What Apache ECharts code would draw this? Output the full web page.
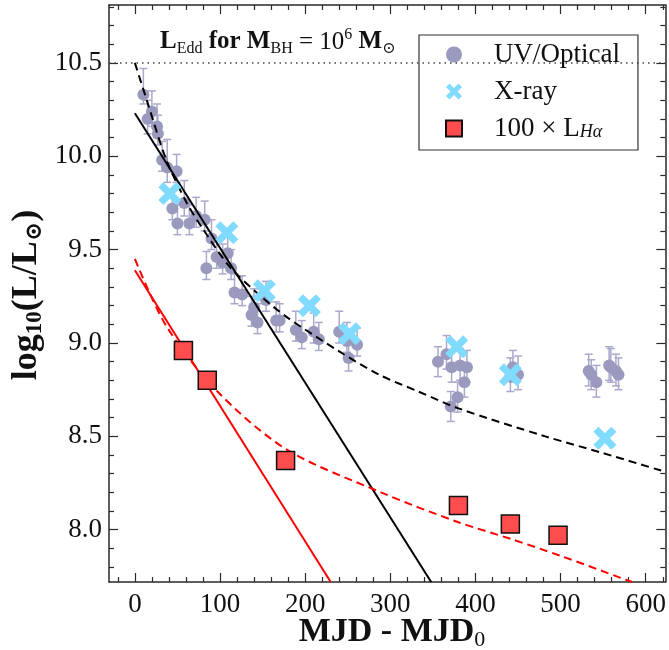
<!DOCTYPE html>
<html>
<head>
<meta charset="utf-8">
<script src="https://cdn.jsdelivr.net/npm/echarts@6/dist/echarts.min.js"></script>
<style>
html, body { margin: 0; padding: 0; background: #fff; }
#main { width: 669px; height: 650px; }
</style>
</head>
<body>
<div id="main"></div>
<script>
// UV/Optical points (days, log L) with lower / upper errors
var uvX = [10, 15, 20, 26, 27, 32, 38, 44, 49, 50, 58, 64, 72, 82, 84, 90, 96, 103, 109, 113, 117, 126, 137, 140, 144, 154, 166, 170, 189, 196, 210, 216, 240, 249, 251, 261, 356, 366, 371, 372, 379, 382, 387, 390, 441, 444, 450, 533, 536, 542, 557, 559, 565, 568];
var uvY = [10.33, 10.20, 10.24, 10.16, 10.12, 9.98, 9.94, 9.72, 9.92, 9.64, 9.75, 9.64, 9.68, 9.66, 9.40, 9.56, 9.46, 9.43, 9.48, 9.40, 9.27, 9.26, 9.15, 9.19, 9.11, 9.23, 9.12, 9.12, 9.07, 9.03, 9.06, 9.02, 9.06, 9.01, 8.92, 8.99, 8.90, 8.94, 8.66, 8.87, 8.71, 8.88, 8.79, 8.87, 8.82, 8.87, 8.83, 8.85, 8.83, 8.79, 8.88, 8.87, 8.85, 8.83];
var uvErrHi = [0.14, 0.10, 0.11, 0.12, 0.10, 0.10, 0.15, 0.10, 0.09, 0.10, 0.12, 0.10, 0.10, 0.10, 0.09, 0.10, 0.10, 0.10, 0.12, 0.10, 0.10, 0.10, 0.10, 0.10, 0.10, 0.10, 0.10, 0.09, 0.10, 0.09, 0.10, 0.09, 0.11, 0.10, 0.08, 0.09, 0.08, 0.10, 0.08, 0.09, 0.08, 0.09, 0.10, 0.09, 0.10, 0.09, 0.10, 0.09, 0.08, 0.09, 0.10, 0.10, 0.09, 0.09];
var uvErrLo = [0.05, 0.08, 0.08, 0.06, 0.06, 0.06, 0.08, 0.06, 0.06, 0.06, 0.07, 0.06, 0.06, 0.06, 0.06, 0.06, 0.06, 0.06, 0.06, 0.06, 0.06, 0.06, 0.06, 0.06, 0.06, 0.06, 0.06, 0.06, 0.06, 0.06, 0.06, 0.06, 0.06, 0.06, 0.07, 0.06, 0.08, 0.08, 0.08, 0.08, 0.08, 0.08, 0.08, 0.08, 0.08, 0.08, 0.08, 0.08, 0.08, 0.08, 0.08, 0.08, 0.08, 0.08];

// X-ray points
var xrX = [41, 108, 152, 205, 252, 378, 441, 552];
var xrY = [9.80, 9.59, 9.28, 9.20, 9.05, 8.98, 8.83, 8.49];

// 100 x L_Halpha points
var haX = [57, 85, 177, 380, 441, 497];
var haY = [8.96, 8.80, 8.37, 8.13, 8.03, 7.97];

// model curves
var blackDashX = [0, 14, 37, 61, 80, 111, 143, 178, 240, 287, 333, 380, 482, 550, 623];
var blackDashY = [10.50, 10.30, 9.98, 9.75, 9.61, 9.41, 9.27, 9.14, 8.955, 8.83, 8.74, 8.65, 8.50, 8.41, 8.31];
var blackSolidX = [0, 348];
var blackSolidY = [10.23, 7.72];
var redDashX = [0, 37, 97, 178, 289, 380, 442, 500, 572, 584];
var redDashY = [9.45, 9.09, 8.74, 8.43, 8.20, 8.04, 7.95, 7.86, 7.74, 7.72];
var redSolidX = [0, 230];
var redSolidY = [9.39, 7.72];

var lEdd = 10.5;

// axes
var xMin = -30.4, xMax = 623;
var yMin = 7.72, yMax = 10.81;
var xMajor = [0, 100, 200, 300, 400, 500, 600];
var xMinor = [-20, 20, 40, 60, 80, 120, 140, 160, 180, 220, 240, 260, 280, 320, 340, 360, 380, 420, 440, 460, 480, 520, 540, 560, 580, 620];
var yMajor = [8.0, 8.5, 9.0, 9.5, 10.0, 10.5];
var yMinor = [7.8, 7.9, 8.1, 8.2, 8.3, 8.4, 8.6, 8.7, 8.8, 8.9, 9.1, 9.2, 9.3, 9.4, 9.6, 9.7, 9.8, 9.9, 10.1, 10.2, 10.3, 10.4, 10.6, 10.7, 10.8];

var SERIF = "'Liberation Serif', 'DejaVu Serif', serif";
var FRAME = '#2a2a2a';
var UV_COLOR = '#9a9abf';
var ERR_COLOR = '#a9a9cc';
var XR_COLOR = '#80dbff';
var HA_COLOR = '#ff4d4d';
var CROSS = 'path://M0,2.2L2.2,0L5,2.8L7.8,0L10,2.2L7.2,5L10,7.8L7.8,10L5,7.2L2.2,10L0,7.8L2.8,5Z';
var HA_NAME = '100 × LHα';

function zip(xs, ys) { return xs.map(function (x, i) { return [x, ys[i]]; }); }

function xAxisDef(pos, ticks, len, line, labels) {
    return {
        type: 'value', position: pos, min: xMin, max: xMax,
        axisLine: { show: line, onZero: false, lineStyle: { color: FRAME, width: 1.5 } },
        axisTick: { show: true, inside: true, length: len, customValues: ticks, lineStyle: { color: FRAME, width: 1.2 } },
        axisLabel: labels ? { customValues: ticks, margin: 9, fontFamily: SERIF, fontSize: 27, color: '#111' } : { show: false },
        splitLine: { show: false }
    };
}
function yAxisDef(pos, ticks, len, line, labels) {
    return {
        type: 'value', position: pos, min: yMin, max: yMax,
        axisLine: { show: line, onZero: false, lineStyle: { color: FRAME, width: 1.5 } },
        axisTick: { show: true, inside: true, length: len, customValues: ticks, lineStyle: { color: FRAME, width: 1.2 } },
        axisLabel: labels ? {
            customValues: ticks, margin: 7, fontFamily: SERIF, fontSize: 27, color: '#111',
            formatter: function (v) { return v.toFixed(1); }
        } : { show: false },
        splitLine: { show: false }
    };
}

var myChart = echarts.init(document.getElementById('main'));

var option = {
    animation: false,
    backgroundColor: '#fff',
    grid: { left: 109, right: 2, top: 5, bottom: 68 },
    xAxis: [
        xAxisDef('bottom', xMajor, 9, true, true),
        xAxisDef('bottom', xMinor, 5, false, false),
        xAxisDef('top', xMajor, 9, true, false),
        xAxisDef('top', xMinor, 5, false, false)
    ],
    yAxis: [
        yAxisDef('left', yMajor, 9, true, true),
        yAxisDef('left', yMinor, 5, false, false),
        yAxisDef('right', yMajor, 9, true, false),
        yAxisDef('right', yMinor, 5, false, false)
    ],
    legend: {
        orient: 'vertical', left: 419, top: 35,
        padding: [6, 18, 8, 26],
        itemWidth: 16, itemHeight: 16, itemGap: 10,
        backgroundColor: '#fff', borderColor: '#333', borderWidth: 1.2,
        selectedMode: false,
        textStyle: {
            fontFamily: SERIF, fontSize: 27, color: '#111', padding: [0, 0, 0, 27],
            rich: {
                t: { fontFamily: SERIF, fontSize: 27, color: '#111', lineHeight: 26 },
                s: { fontFamily: SERIF, fontSize: 18, fontStyle: 'italic', color: '#111', lineHeight: 12, verticalAlign: 'bottom' }
            }
        },
        formatter: function (name) {
            return name === HA_NAME ? '{t|100 × L}{s|Hα}' : '{t|' + name + '}';
        },
        data: [
            { name: 'UV/Optical', icon: 'circle' },
            { name: 'X-ray', icon: CROSS },
            { name: HA_NAME, icon: 'rect' }
        ]
    },
    graphic: [
        {
            type: 'text', left: 160, top: 27, z: 100,
            style: {
                text: '{b|L}{sub|Edd}{b| for M}{sub|BH}{r| = 10}{sup|6}{b| M}{sub|⊙}',
                rich: {
                    b: { fontFamily: SERIF, fontSize: 25, fontWeight: 'bold', fill: '#111', lineHeight: 30 },
                    r: { fontFamily: SERIF, fontSize: 25, fill: '#111', lineHeight: 30 },
                    sub: { fontFamily: SERIF, fontSize: 16, fill: '#111', lineHeight: 18, verticalAlign: 'bottom' },
                    sup: { fontFamily: SERIF, fontSize: 16, fill: '#111', lineHeight: 18, verticalAlign: 'top' }
                }
            }
        },
        {
            type: 'text', x: 392, y: 632,
            style: {
                text: '{b|MJD - MJD}{sub|0}', textAlign: 'center', textVerticalAlign: 'middle',
                rich: {
                    b: { fontFamily: SERIF, fontSize: 34, fontWeight: 'bold', fill: '#111', lineHeight: 38 },
                    sub: { fontFamily: SERIF, fontSize: 22, fill: '#111', lineHeight: 22, verticalAlign: 'bottom' }
                }
            }
        },
        {
            type: 'text', x: 27, y: 295, rotation: Math.PI / 2,
            style: {
                text: '{b|log}{sub|10}{b|(L/L}{sub|⊙}{b|)}', textAlign: 'center', textVerticalAlign: 'middle',
                rich: {
                    b: { fontFamily: SERIF, fontSize: 36, fontWeight: 'bold', fill: '#111', lineHeight: 40 },
                    sub: { fontFamily: SERIF, fontSize: 23, fontWeight: 'bold', fill: '#111', lineHeight: 24, verticalAlign: 'bottom' }
                }
            }
        }
    ],
    series: [
        {
            name: 'errors', type: 'custom', z: 1, silent: true,
            data: uvX.map(function (x, i) { return [x, uvY[i], uvErrLo[i], uvErrHi[i]]; }),
            encode: { x: 0, y: 1 },
            renderItem: function (params, api) {
                var x = api.value(0), y = api.value(1);
                var top = api.coord([x, y + api.value(3)]);
                var bot = api.coord([x, y - api.value(2)]);
                var c = 4;
                var st = { stroke: ERR_COLOR, lineWidth: 1.5 };
                return {
                    type: 'group', children: [
                        { type: 'line', shape: { x1: top[0], y1: top[1], x2: bot[0], y2: bot[1] }, style: st },
                        { type: 'line', shape: { x1: top[0] - c, y1: top[1], x2: top[0] + c, y2: top[1] }, style: st },
                        { type: 'line', shape: { x1: bot[0] - c, y1: bot[1], x2: bot[0] + c, y2: bot[1] }, style: st }
                    ]
                };
            }
        },
        {
            name: 'UV/Optical', type: 'scatter', z: 2,
            symbol: 'circle', symbolSize: 12,
            itemStyle: { color: UV_COLOR, opacity: 1 },
            data: zip(uvX, uvY)
        },
        {
            name: 'Eddington', type: 'line', z: 2, data: [],
            markLine: {
                silent: true, symbol: 'none', label: { show: false },
                lineStyle: { color: '#444', width: 1.5, type: [1.5, 4] },
                data: [{ yAxis: lEdd }]
            }
        },
        {
            name: 'fit dashed', type: 'line', z: 3, showSymbol: false, smooth: 0.3,
            lineStyle: { color: '#000', width: 2, type: [8, 5] },
            data: zip(blackDashX, blackDashY)
        },
        {
            name: 'fit solid', type: 'line', z: 3, showSymbol: false,
            lineStyle: { color: '#000', width: 2 },
            data: zip(blackSolidX, blackSolidY)
        },
        {
            name: 'ha dashed', type: 'line', z: 3, showSymbol: false, smooth: 0.3,
            lineStyle: { color: '#ff0000', width: 2, type: [8, 5] },
            data: zip(redDashX, redDashY)
        },
        {
            name: 'ha solid', type: 'line', z: 3, showSymbol: false,
            lineStyle: { color: '#ff0000', width: 2 },
            data: zip(redSolidX, redSolidY)
        },
        {
            name: 'X-ray', type: 'scatter', z: 4,
            symbol: CROSS, symbolSize: 23,
            itemStyle: { color: XR_COLOR, opacity: 1 },
            data: zip(xrX, xrY)
        },
        {
            name: HA_NAME, type: 'scatter', z: 5,
            symbol: 'rect', symbolSize: 18,
            itemStyle: { color: HA_COLOR, borderColor: '#111', borderWidth: 1.5, opacity: 1 },
            data: zip(haX, haY)
        }
    ]
};

myChart.setOption(option);
</script>
</body>
</html>
